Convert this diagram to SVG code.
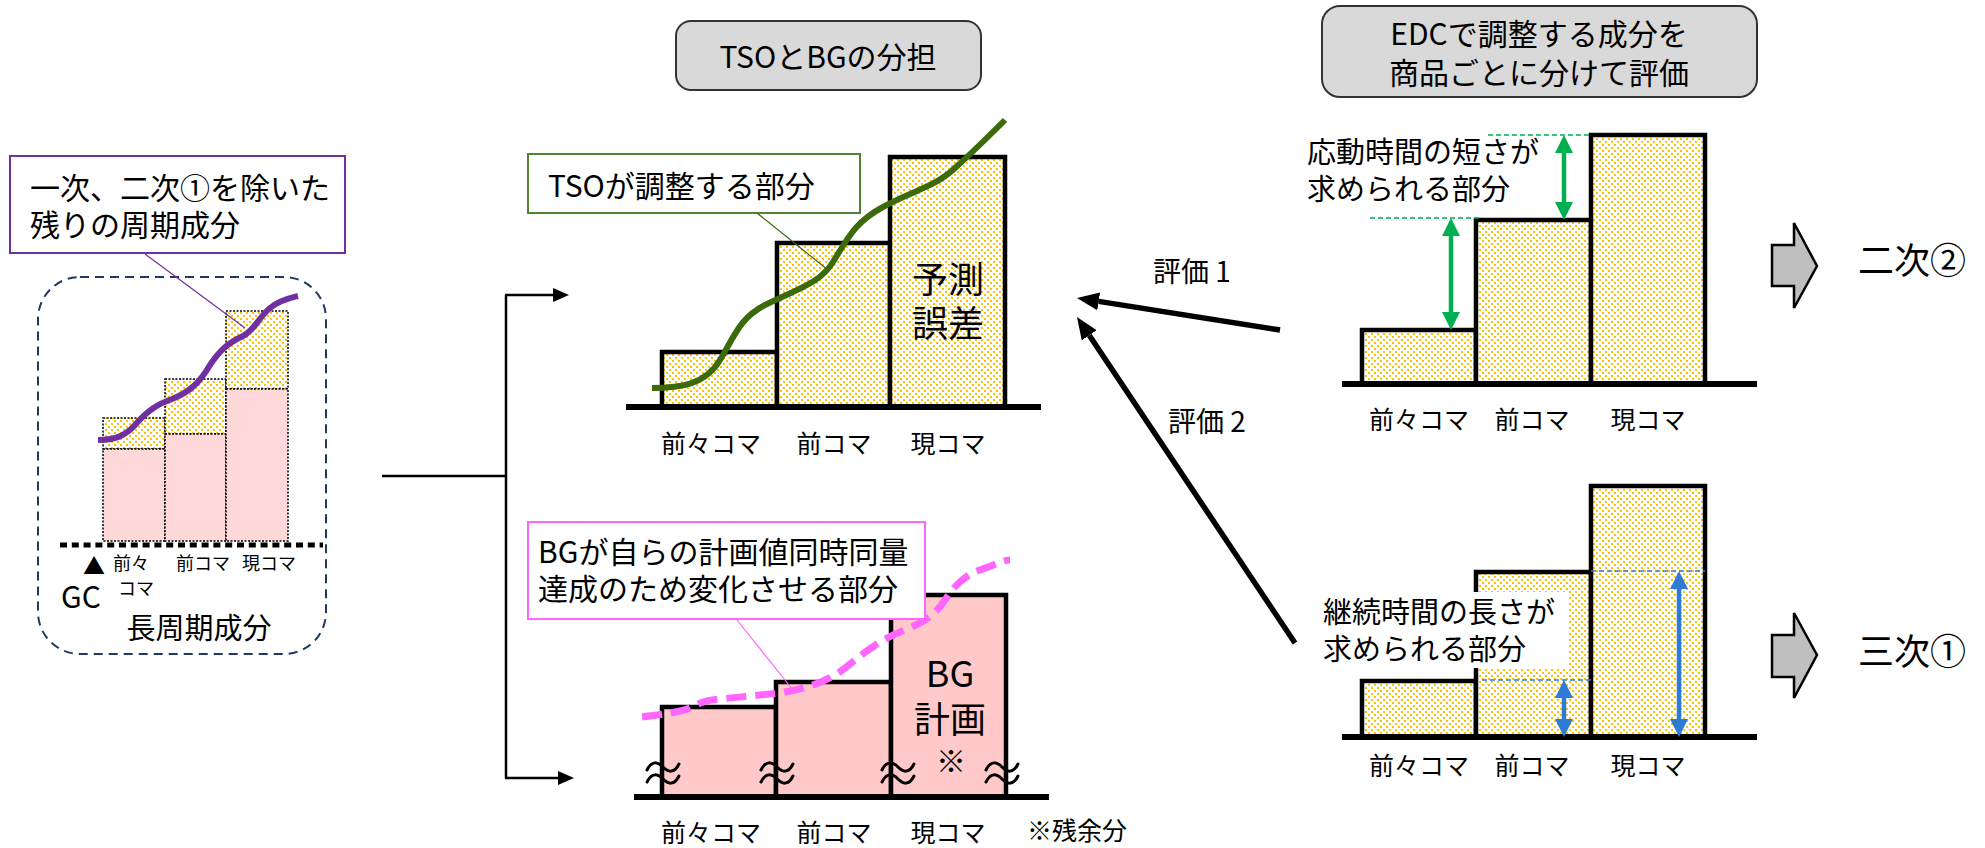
<svg xmlns="http://www.w3.org/2000/svg" width="1985" height="848" viewBox="0 0 1985 848">
<style>
text{font-family:"Noto Sans CJK JP","Noto Sans",sans-serif;fill:#000}
.t30{font-size:30px}
.t29{font-size:29px}
.t25{font-size:25px}
.t18{font-size:18px}
.t36{font-size:36px}
.hdr{fill:#D9D9D9;stroke:#333;stroke-width:2}
.bar{fill:url(#dots);stroke:#000;stroke-width:4.5}
.bgbar{fill:#FFC9C9;stroke:#000;stroke-width:4.5}
.base{stroke:#000;stroke-width:6;fill:none}
.lbar{stroke:#000;stroke-width:1.5;stroke-dasharray:2 1.5}
.wave{fill:none;stroke:#000;stroke-width:3;stroke-linecap:round}
.conn{fill:none;stroke:#000;stroke-width:2.5}
.evl{fill:none;stroke:#000;stroke-width:5.5}
.blk{fill:#BFBFBF;stroke:#000;stroke-width:2.5}
</style>
<defs>
<pattern id="dots" width="6" height="6" patternUnits="userSpaceOnUse">
<rect width="6" height="6" fill="#fff"/>
<rect x="0" y="0" width="2" height="2" fill="#FFC000"/>
<rect x="3" y="3" width="2" height="2" fill="#FFC000"/>
</pattern>
<marker id="ah" markerUnits="userSpaceOnUse" markerWidth="16" markerHeight="14" refX="0" refY="7" orient="auto"><path d="M0,0 L16,7 L0,14 z" fill="#000"/></marker>
<marker id="ahb" markerUnits="userSpaceOnUse" markerWidth="22" markerHeight="18" refX="0" refY="9" orient="auto"><path d="M0,0 L22,9 L0,18 z" fill="#000"/></marker>
<marker id="ahg" markerUnits="userSpaceOnUse" markerWidth="18" markerHeight="18" refX="0" refY="9" orient="auto-start-reverse"><path d="M0,0 L18,9 L0,18 z" fill="#00B050"/></marker>
<marker id="ahbl" markerUnits="userSpaceOnUse" markerWidth="18" markerHeight="18" refX="0" refY="9" orient="auto-start-reverse"><path d="M0,0 L18,9 L0,18 z" fill="#2E7BD6"/></marker>
<g id="wv"><path class="wave" d="M-16,-3 C-11,-13 -5,-11 0,-6 C5,-1 11,1 16,-9"/><path class="wave" d="M-16,9 C-11,-1 -5,1 0,6 C5,11 11,13 16,3"/></g>
</defs>

<!-- Left: long-period component -->
<g id="long-period">
<rect x="38" y="277" width="288" height="377" rx="42" fill="none" stroke="#203864" stroke-width="2" stroke-dasharray="9 6"/>
<rect x="103" y="418" width="62" height="31" fill="url(#dots)" class="lbar"/>
<rect x="103" y="449" width="62" height="92" fill="#FFD9D9" class="lbar"/>
<rect x="165" y="379" width="61" height="55" fill="url(#dots)" class="lbar"/>
<rect x="165" y="434" width="61" height="107" fill="#FFD9D9" class="lbar"/>
<rect x="226" y="311" width="62" height="78" fill="url(#dots)" class="lbar"/>
<rect x="226" y="389" width="62" height="152" fill="#FFD9D9" class="lbar"/>
<line x1="60" y1="545" x2="323" y2="545" stroke="#000" stroke-width="5" stroke-dasharray="7 4.8"/>
<path d="M98,440 C115,440 125,436 135,425 C148,410 158,404 172,399 C190,392 200,382 210,365 C220,350 228,343 243,336 C255,330 258,318 270,308 C280,300 290,298 298,296" fill="none" stroke="#7030A0" stroke-width="6"/>
<text x="83" y="574" style="font-size:22px">▲</text>
<text class="t18" x="113" y="570">前々</text>
<text class="t18" x="118" y="595">コマ</text>
<text class="t18" x="176" y="570">前コマ</text>
<text class="t18" x="242" y="570">現コマ</text>
<text class="t30" x="61" y="608">GC</text>
<text class="t29" x="199" y="639" text-anchor="middle">長周期成分</text>
</g>

<g id="callout-purple">
<rect x="10" y="156" width="335" height="97" fill="#fff" stroke="#7030A0" stroke-width="2"/>
<line x1="145" y1="254" x2="245" y2="328" stroke="#7030A0" stroke-width="1.2"/>
<text class="t30" x="30" y="199">一次、二次①を除いた</text>
<text class="t30" x="30" y="236">残りの周期成分</text>
</g>

<!-- Headers -->
<g id="hdr-tso">
<rect class="hdr" x="676" y="21" width="305" height="69" rx="15"/>
<text class="t30" x="828" y="68" text-anchor="middle">TSOとBGの分担</text>
</g>
<g id="hdr-edc">
<rect class="hdr" x="1322" y="6" width="435" height="91" rx="18"/>
<text class="t30" x="1539" y="45" text-anchor="middle">EDCで調整する成分を</text>
<text class="t30" x="1539" y="84" text-anchor="middle">商品ごとに分けて評価</text>
</g>

<!-- Top center chart: TSO -->
<g id="chart-tso">
<rect class="bar" x="662" y="352" width="115" height="55"/>
<rect class="bar" x="777" y="243" width="113" height="164"/>
<rect class="bar" x="890" y="157" width="115" height="250"/>
<line class="base" x1="626" y1="407" x2="1041" y2="407"/>
<text class="t36" x="948" y="293" text-anchor="middle">予測</text>
<text class="t36" x="948" y="337" text-anchor="middle">誤差</text>
<path d="M652,388 C680,388 705,385 720,360 C735,335 740,318 765,305 C800,288 820,283 833,262 C848,238 855,222 883,207 C910,192 935,187 955,168 C975,150 990,135 1005,120" fill="none" stroke="#3A6A0A" stroke-width="6"/>
<text class="t25" x="711" y="453" text-anchor="middle">前々コマ</text>
<text class="t25" x="834" y="453" text-anchor="middle">前コマ</text>
<text class="t25" x="948" y="453" text-anchor="middle">現コマ</text>
</g>
<g id="callout-tso">
<rect x="528" y="154" width="332" height="59" fill="#fff" stroke="#548235" stroke-width="2"/>
<line x1="757" y1="213" x2="828" y2="270" stroke="#3A6A0A" stroke-width="1.2"/>
<text class="t30" x="548" y="197">TSOが調整する部分</text>
</g>

<!-- Bottom center chart: BG -->
<g id="chart-bg">
<rect class="bgbar" x="662" y="707" width="114" height="90"/>
<rect class="bgbar" x="776" y="682" width="115" height="115"/>
<rect class="bgbar" x="891" y="595" width="115" height="202"/>
<line class="base" x1="634" y1="797" x2="1049" y2="797"/>
<use href="#wv" x="663" y="773"/>
<use href="#wv" x="777" y="773"/>
<use href="#wv" x="898" y="773"/>
<use href="#wv" x="1002" y="773"/>
<text class="t36" x="950" y="687" text-anchor="middle">BG</text>
<text class="t36" x="950" y="733" text-anchor="middle">計画</text>
<text class="t30" x="951" y="772" text-anchor="middle">※</text>
<path d="M642,717 C665,714 680,712 690,708 C700,703 705,700 720,699 L780,693 C810,688 830,680 845,668 C865,652 880,640 900,632 C925,622 935,615 945,600 C955,585 965,575 980,570 C995,565 1003,560 1010,560" fill="none" stroke="#FF66FF" stroke-width="7" stroke-dasharray="20 9"/>
<text class="t25" x="711" y="842" text-anchor="middle">前々コマ</text>
<text class="t25" x="834" y="842" text-anchor="middle">前コマ</text>
<text class="t25" x="948" y="842" text-anchor="middle">現コマ</text>
<text class="t25" x="1027" y="840">※残余分</text>
</g>
<g id="callout-bg">
<rect x="528" y="522" width="397" height="97" fill="#fff" stroke="#FF66FF" stroke-width="2"/>
<line x1="737" y1="620" x2="793" y2="690" stroke="#FF66FF" stroke-width="1.2"/>
<text class="t30" x="538" y="563">BGが自らの計画値同時同量</text>
<text class="t30" x="538" y="600">達成のため変化させる部分</text>
</g>

<!-- Top right chart: response time -->
<g id="chart-response">
<rect class="bar" x="1362" y="330" width="114" height="54"/>
<rect class="bar" x="1476" y="220" width="115" height="164"/>
<rect class="bar" x="1591" y="135" width="114" height="249"/>
<line class="base" x1="1342" y1="384" x2="1757" y2="384"/>
<line x1="1488" y1="135" x2="1591" y2="135" stroke="#00B050" stroke-width="1.5" stroke-dasharray="5 3"/>
<line x1="1370" y1="218" x2="1482" y2="218" stroke="#00B050" stroke-width="1.5" stroke-dasharray="5 3"/>
<line x1="1564" y1="153" x2="1564" y2="202" stroke="#00B050" stroke-width="4.5" marker-start="url(#ahg)" marker-end="url(#ahg)"/>
<line x1="1451" y1="236" x2="1451" y2="312" stroke="#00B050" stroke-width="4.5" marker-start="url(#ahg)" marker-end="url(#ahg)"/>
<text class="t29" x="1307" y="163">応動時間の短さが</text>
<text class="t29" x="1307" y="200">求められる部分</text>
<text class="t25" x="1419" y="429" text-anchor="middle">前々コマ</text>
<text class="t25" x="1532" y="429" text-anchor="middle">前コマ</text>
<text class="t25" x="1648" y="429" text-anchor="middle">現コマ</text>
</g>

<!-- Bottom right chart: duration -->
<g id="chart-duration">
<rect class="bar" x="1362" y="681" width="114" height="56"/>
<rect class="bar" x="1476" y="572" width="115" height="165"/>
<rect class="bar" x="1591" y="486" width="114" height="251"/>
<line class="base" x1="1342" y1="737" x2="1757" y2="737"/>
<line x1="1591" y1="571" x2="1705" y2="571" stroke="#2E7BD6" stroke-width="1.5" stroke-dasharray="5 3"/>
<line x1="1482" y1="680" x2="1593" y2="680" stroke="#2E7BD6" stroke-width="1.5" stroke-dasharray="5 3"/>
<line x1="1564" y1="698" x2="1564" y2="719" stroke="#2E7BD6" stroke-width="4.5" marker-start="url(#ahbl)" marker-end="url(#ahbl)"/>
<line x1="1679" y1="589" x2="1679" y2="719" stroke="#2E7BD6" stroke-width="4.5" marker-start="url(#ahbl)" marker-end="url(#ahbl)"/>
<rect x="1317" y="592" width="251" height="76" fill="#fff"/>
<text class="t29" x="1323" y="623">継続時間の長さが</text>
<text class="t29" x="1323" y="660">求められる部分</text>
<text class="t25" x="1419" y="775" text-anchor="middle">前々コマ</text>
<text class="t25" x="1532" y="775" text-anchor="middle">前コマ</text>
<text class="t25" x="1648" y="775" text-anchor="middle">現コマ</text>
</g>

<!-- Outcome arrows -->
<g id="out-2nd2">
<polygon class="blk" points="1772,245 1794,245 1794,223 1817,266 1794,308 1794,286 1772,286"/>
<text class="t36" x="1858" y="274">二次②</text>
</g>
<g id="out-3rd1">
<polygon class="blk" points="1772,635 1794,635 1794,613 1817,655 1794,698 1794,677 1772,677"/>
<text class="t36" x="1858" y="665">三次①</text>
</g>

<!-- Connectors -->
<g id="connectors">
<polyline class="conn" points="382,476 506,476"/>
<polyline class="conn" points="506,295 506,778"/>
<line class="conn" x1="505" y1="295" x2="553" y2="295" marker-end="url(#ah)"/>
<line class="conn" x1="505" y1="778" x2="558" y2="778" marker-end="url(#ah)"/>
<line class="evl" x1="1280" y1="330" x2="1098.7" y2="301.4" marker-end="url(#ahb)"/>
<line class="evl" x1="1295" y1="643" x2="1089.2" y2="335.3" marker-end="url(#ahb)"/>
<text x="1153" y="282" style="font-size:28px">評価 1</text>
<text x="1168" y="432" style="font-size:28px">評価 2</text>
</g>
</svg>
